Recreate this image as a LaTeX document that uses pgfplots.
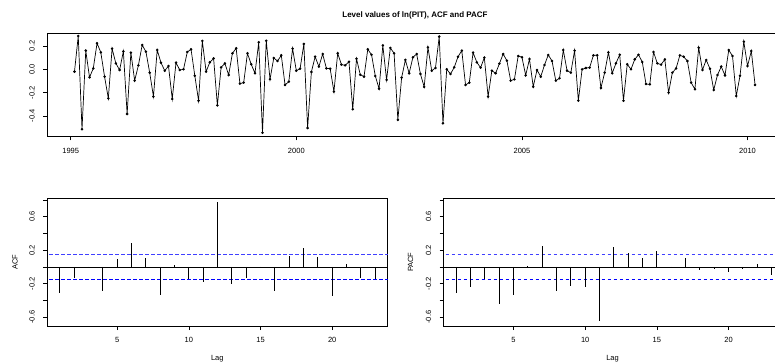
\documentclass[border=0pt]{standalone}
\usepackage{pgfplots}
\usepackage{pgfplotstable}
\pgfplotsset{compat=1.18}
\usepackage{fontspec}
\setmainfont{Liberation Sans}

\pgfplotstableread{
k y
0 -0.020
1 0.285
2 -0.514
3 0.160
4 -0.069
5 0.008
6 0.223
7 0.145
8 -0.063
9 -0.249
10 0.177
11 0.051
12 -0.006
13 0.154
14 -0.383
15 0.143
16 -0.097
17 0.034
18 0.208
19 0.151
20 -0.029
21 -0.234
22 0.165
23 0.057
24 -0.012
25 0.028
26 -0.254
27 0.057
28 -0.006
29 0.000
30 0.148
31 0.171
32 -0.055
33 -0.269
34 0.243
35 -0.020
36 0.060
37 0.094
38 -0.309
39 0.017
40 0.051
41 -0.049
42 0.137
43 0.180
44 -0.123
45 -0.114
46 0.137
47 0.043
48 -0.034
49 0.231
50 -0.543
51 0.245
52 -0.086
53 0.097
54 0.071
55 0.120
56 -0.134
57 -0.106
58 0.177
59 -0.012
60 0.005
61 0.217
62 -0.503
63 -0.023
64 0.108
65 0.023
66 0.131
67 0.008
68 0.005
69 -0.191
70 0.137
71 0.040
72 0.034
73 0.065
74 -0.343
75 0.091
76 -0.046
77 -0.063
78 0.171
79 0.125
80 -0.057
81 -0.166
82 0.205
83 -0.091
84 0.183
85 0.137
86 -0.434
87 -0.072
88 0.080
89 -0.034
90 0.103
91 0.131
92 -0.040
93 -0.151
94 0.188
95 -0.012
96 0.011
97 0.280
98 -0.463
99 0.000
100 -0.040
101 0.017
102 0.108
103 0.160
104 -0.134
105 -0.114
106 0.143
107 0.060
108 0.014
109 0.100
110 -0.234
111 -0.012
112 -0.034
113 0.048
114 0.131
115 0.074
116 -0.097
117 -0.086
118 0.114
119 0.103
120 -0.052
121 0.088
122 -0.149
123 -0.006
124 -0.063
125 0.037
126 0.123
127 0.071
128 -0.097
129 -0.077
130 0.165
131 -0.012
132 -0.029
133 0.160
134 -0.269
135 0.000
136 0.011
137 0.014
138 0.120
139 0.120
140 -0.160
141 -0.029
142 0.145
143 -0.034
144 0.051
145 0.125
146 -0.269
147 0.043
148 0.000
149 0.085
150 0.125
151 0.063
152 -0.126
153 -0.129
154 0.148
155 0.051
156 0.040
157 0.085
158 -0.200
159 -0.029
160 0.008
161 0.120
162 0.108
163 0.071
164 -0.114
165 -0.171
166 0.185
167 -0.006
168 0.080
169 0.005
170 -0.177
171 -0.049
172 0.023
173 -0.052
174 0.165
175 0.114
176 -0.229
177 -0.055
178 0.237
179 0.028
180 0.157
181 -0.134
}\seriestab

\pgfplotstableread{
lag acf
1 -0.307
2 -0.128
3 -0.012
4 -0.291
5 0.096
6 0.287
7 0.104
8 -0.331
9 0.020
10 -0.144
11 -0.183
12 0.778
13 -0.203
14 -0.128
15 -0.004
16 -0.291
17 0.128
18 0.227
19 0.120
20 -0.343
21 0.036
22 -0.136
23 -0.148
}\acftab

\pgfplotstableread{
lag pacf
1 -0.307
2 -0.243
3 -0.148
4 -0.447
5 -0.331
6 0.016
7 0.247
8 -0.283
9 -0.231
10 -0.243
11 -0.650
12 0.235
13 0.167
14 0.108
15 0.195
16 -0.016
17 0.108
18 -0.040
19 -0.020
20 -0.064
21 -0.028
22 0.032
23 -0.092
}\pacftab

\pgfplotsset{
  rbase/.style={
    scale only axis,
    axis line style={line width=0.7pt},
    tick align=outside,
    xtick pos=left, ytick pos=left,
    major tick length=4pt,
    tick style={black, line width=0.6pt},
    ticklabel style={font=\fontsize{7.5}{9}\selectfont},
    yticklabel style={rotate=90, anchor=south, inner sep=0pt},
    xticklabel style={anchor=north, inner sep=0pt},
    xticklabel shift=7.5pt,
    yticklabel shift=8.3pt,
    minor tick num=0,
  },
  corr/.style={
    rbase,
    width=340.5pt, height=127.7pt,
    xmin=0.12, xmax=23.88,
    ymin=-0.706, ymax=0.821,
    xtick={5,10,15,20},
    xticklabels={5,10,15,20},
    ytick={-0.6,-0.4,-0.2,0,0.2,0.4,0.6,0.8},
    yticklabels={{-0.6},{},{-0.2},{},{0.2},{},{0.6},{}},
  },
}

\begin{document}
\begin{tikzpicture}

\begin{axis}[rbase,
  at={(47.3pt,225.7pt)}, anchor=south west,
  width=735.4pt, height=103.3pt,
  xmin=-7.23, xmax=188.35,
  ymin=-0.574, ymax=0.311,
  xtick={-1,59,119,179},
  xticklabels={1995,2000,2005,2010},
  ytick={-0.4,-0.2,0,0.2},
  yticklabels={{-0.4},{-0.2},{0.0},{0.2}},
]
\addplot[black, line width=0.7pt, mark=*, mark size=0.9pt] table[x=k, y=y] {\seriestab};
\end{axis}

\begin{axis}[corr, at={(47.3pt,36pt)}, anchor=south west]
\addplot[black, line width=0.6pt] coordinates {(-1,0) (25,0)};
\addplot[blue!75, line width=0.8pt, dash pattern=on 3.5pt off 2.5pt] coordinates {(-1,0.145) (25,0.145)};
\addplot[blue, line width=0.8pt, dash pattern=on 3.5pt off 2.5pt] coordinates {(-1,-0.145) (25,-0.145)};
\addplot[ycomb, black, line width=1.0pt, mark=none] table[x=lag, y=acf] {\acftab};
\end{axis}

\begin{axis}[corr, at={(443.6pt,36pt)}, anchor=south west]
\addplot[black, line width=0.6pt] coordinates {(-1,0) (25,0)};
\addplot[blue!75, line width=0.8pt, dash pattern=on 3.5pt off 2.5pt] coordinates {(-1,0.145) (25,0.145)};
\addplot[blue, line width=0.8pt, dash pattern=on 3.5pt off 2.5pt] coordinates {(-1,-0.145) (25,-0.145)};
\addplot[ycomb, black, line width=1.0pt, mark=none] table[x=lag, y=pacf] {\pacftab};
\end{axis}

\node[font=\bfseries\fontsize{8}{10}\selectfont, inner sep=0pt] at (415pt,346.5pt) {Level values of ln(PIT), ACF and PACF};
\node[font=\fontsize{7.5}{9}\selectfont, inner sep=0pt, rotate=90] at (15pt,99.8pt) {ACF};
\node[font=\fontsize{7.5}{9}\selectfont, inner sep=0pt, rotate=90] at (410.5pt,99.8pt) {PACF};
\node[font=\fontsize{7.5}{9}\selectfont, inner sep=0pt] at (217.3pt,3.8pt) {Lag};
\node[font=\fontsize{7.5}{9}\selectfont, inner sep=0pt] at (612.5pt,3.8pt) {Lag};

\pgfresetboundingbox
\useasboundingbox (0pt,0pt) rectangle (775pt,362pt);
\end{tikzpicture}
\end{document}
